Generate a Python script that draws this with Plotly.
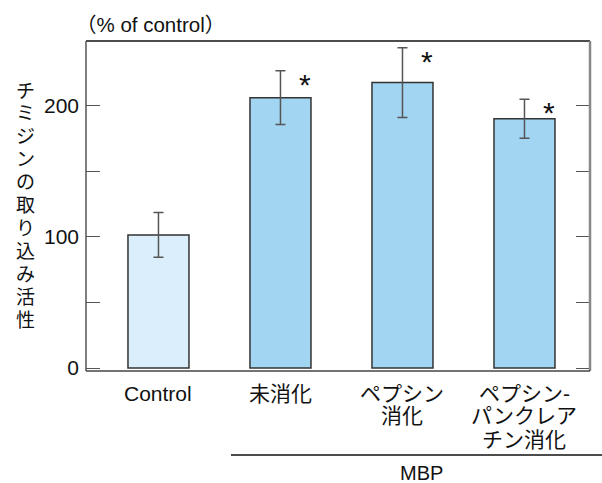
import plotly.graph_objects as go

categories = ["Control", "未消化", "ペプシン<br>消化", "ペプシン-<br>パンクレア<br>チン消化"]
values = [101.5, 206, 217.5, 190]
errors = [17, 20.5, 26.5, 14.8]
significant = [False, True, True, True]
bar_colors = ["#dbeefc", "#a2d5f2", "#a2d5f2", "#a2d5f2"]
y_tickvals = [0, 50, 100, 150, 200]
y_ticktext = ["0", "", "100", "", "200"]
y_title = "チミジンの取り込み活性"
unit_label = "（% of control）"
group_label = "MBP"

FONT = "Liberation Sans, Arial, Noto Sans CJK JP, sans-serif"
xs = list(range(len(categories)))

# plot area in pixels (for placing text decorations)
L, R, T, B = 86, 590, 41, 371
W, H = 602, 483
PH = B - T
PW = R - L


def py(ypix):
    return (B - ypix) / PH


def px(xpix):
    return (xpix - L) / PW


fig = go.Figure()
fig.add_trace(go.Bar(
    x=xs, y=values, width=0.5,
    marker=dict(color=bar_colors, line=dict(color="#333333", width=1.5)),
    error_y=dict(type="data", array=errors, visible=True, color="#555555",
                 thickness=1.5, width=5),
    showlegend=False, hoverinfo="skip",
))

annotations = []
for x, v, e, s in zip(xs, values, errors, significant):
    if s:
        annotations.append(dict(x=x + 0.2, y=v + e - 8, xref="x", yref="y",
                                text="*", showarrow=False, yshift=-3,
                                font=dict(size=30, color="#111111", family=FONT)))

# category labels, one annotation per line for tight line spacing
for x, lab in zip(xs, categories):
    for i, line in enumerate(lab.split("<br>")):
        annotations.append(dict(x=x, y=py(393 + 23 * i), xref="x", yref="paper",
                                text=line, showarrow=False,
                                xanchor="center", yanchor="middle",
                                font=dict(size=21, color="#111111", family=FONT)))

# vertical y-axis title, upright characters
for i, ch in enumerate(y_title):
    annotations.append(dict(x=px(25), y=py(91 + 22.95 * i), xref="paper", yref="paper",
                            text=ch, showarrow=False,
                            xanchor="center", yanchor="middle",
                            font=dict(size=19, color="#111111", family=FONT)))

annotations.append(dict(x=px(150), y=py(25), xref="paper", yref="paper",
                        text=unit_label, showarrow=False,
                        font=dict(size=20.5, color="#111111", family=FONT),
                        xanchor="center", yanchor="middle"))
annotations.append(dict(x=px(421), y=py(472.5), xref="paper", yref="paper",
                        text=group_label, showarrow=False,
                        font=dict(size=20, color="#111111", family=FONT),
                        xanchor="center", yanchor="middle", borderpad=0))

shapes = [
    dict(type="line", xref="paper", yref="paper", x0=px(231), x1=px(605), y0=py(455), y1=py(455),
         line=dict(color="#111111", width=1.5)),
    # frame
    dict(type="line", xref="paper", yref="paper", x0=0, x1=1, y0=1, y1=1,
         line=dict(color="#111111", width=1.5)),
    dict(type="line", xref="paper", yref="paper", x0=1, x1=1, y0=0, y1=1,
         line=dict(color="#888888", width=2.5)),
    dict(type="line", xref="paper", yref="paper", x0=0, x1=0, y0=0, y1=1,
         line=dict(color="#555555", width=1.5)),
    dict(type="line", xref="paper", yref="paper", x0=0, x1=1, y0=0, y1=0,
         line=dict(color="#444444", width=1.5)),
]

fig.update_layout(
    width=W, height=H,
    margin=dict(l=L, r=W - R, t=T, b=H - B),
    paper_bgcolor="white", plot_bgcolor="white",
    font=dict(family=FONT, size=21, color="#111111"),
    annotations=annotations, shapes=shapes,
    xaxis=dict(range=[-0.594, 3.537], tickvals=xs, showticklabels=False,
               showline=False, showgrid=False, zeroline=False, ticks="",
               automargin=False),
    yaxis=dict(range=[-2.2, 249.2], tickvals=y_tickvals, ticktext=y_ticktext,
               showline=False, showgrid=False, zeroline=False,
               ticks="inside", ticklen=14, tickwidth=1.3, tickcolor="#555555",
               mirror="ticks", automargin=False, ticklabelstandoff=6,
               tickfont=dict(size=21, family=FONT, color="#111111")),
)

fig.write_html("out.html", config={"displayModeBar": False},
               post_script="document.body.style.margin='0';document.body.style.overflow='hidden';")
